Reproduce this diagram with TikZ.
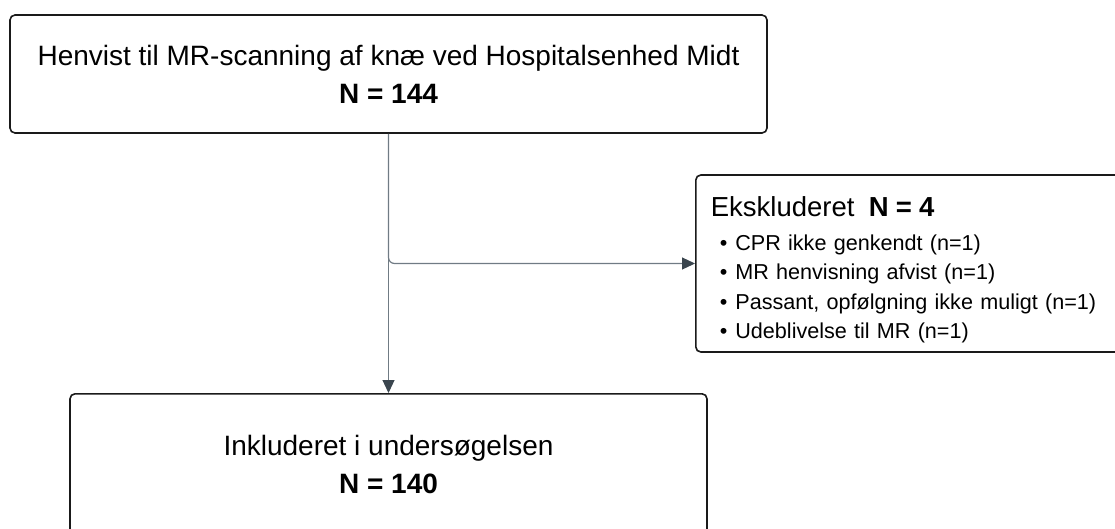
\documentclass[tikz,border=0pt]{standalone}
\usepackage{fontspec}
\setmainfont{Liberation Sans}
\usetikzlibrary{arrows.meta}
\definecolor{linec}{HTML}{707B84}
\definecolor{tipc}{HTML}{3A454E}
\definecolor{boxc}{HTML}{1A1A1A}
\begin{document}
\begin{tikzpicture}[x=1pt,y=-1pt,
  box/.style={draw=boxc, line width=1.6pt, rounded corners=5pt, fill=white},
  conn/.style={draw=linec, line width=1.2pt, -{Triangle[length=13pt,width=12pt,fill=tipc,color=tipc]}},
  bigtext/.style={font=\fontsize{28}{38}\selectfont},
]
\useasboundingbox (0,0) rectangle (1115,528);
\clip (0,0) rectangle (1115,528);
\node[box, bigtext, minimum width=757pt, minimum height=118pt, align=center] (ref) at (388.5,74)
  {Henvist til MR-scanning af knæ ved Hospitalsenhed Midt\\ \textbf{N = 144}};
\node[box, anchor=west, minimum height=177pt, text width=405pt, inner xsep=15pt, align=left,
  font=\fontsize{21.6}{29.3}\selectfont] (exc) at (695,263.5)
  {{\fontsize{27.5}{29.3}\selectfont\rule{0pt}{32pt}Ekskluderet\ \ \textbf{N = 4}}\\[5pt]
   \hspace*{9pt}\textbullet\hspace{8pt}CPR ikke genkendt (n=1)\\
   \hspace*{9pt}\textbullet\hspace{8pt}MR henvisning afvist (n=1)\\
   \hspace*{9pt}\textbullet\hspace{8pt}Passant, opfølgning ikke muligt (n=1)\\
   \hspace*{9pt}\textbullet\hspace{8pt}Udeblivelse til MR (n=1)};
\node[box, bigtext, anchor=north, minimum width=637pt, minimum height=142pt, align=center] (inc) at (388.5,393)
  {Inkluderet i undersøgelsen\\ \textbf{N = 140}};
\draw[conn] (ref.south) -- (inc.north);
\draw[conn, rounded corners=6pt] (ref.south) |- (exc.west);
\end{tikzpicture}
\end{document}
